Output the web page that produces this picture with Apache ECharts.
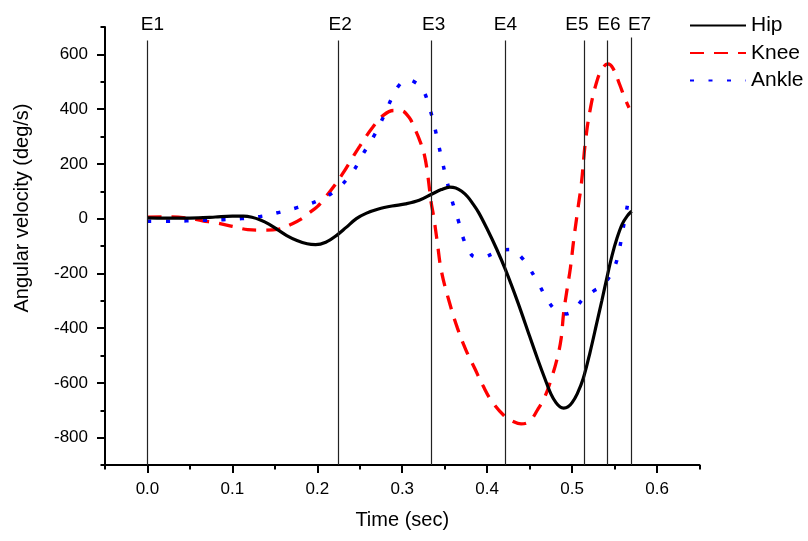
<!DOCTYPE html>
<html>
<head>
<meta charset="utf-8">
<script src="https://cdn.jsdelivr.net/npm/echarts@6/dist/echarts.min.js"></script>
<style>
html,body{margin:0;padding:0;background:#fff;}
#chart{width:808px;height:541px;}
</style>
</head>
<body>
<div id="chart"></div>
<script>
// ---- data ----
const hipT = [0, 0.02, 0.04, 0.06, 0.08, 0.10, 0.113, 0.123, 0.133, 0.143, 0.153, 0.164, 0.176, 0.188, 0.198, 0.21, 0.222, 0.234, 0.246, 0.258, 0.272, 0.288, 0.304, 0.32, 0.335, 0.346, 0.356, 0.363, 0.37, 0.377, 0.383, 0.39, 0.40, 0.411, 0.422, 0.436, 0.45, 0.46, 0.468, 0.475, 0.481, 0.486, 0.49, 0.495, 0.50, 0.506, 0.513, 0.521, 0.529, 0.535, 0.541, 0.547, 0.553, 0.559, 0.565, 0.570];
const hipV = [3, 2, 2, 3, 6, 9, 9, 5, -5, -20, -40, -62, -80, -92, -95, -86, -63, -32, 0, 20, 35, 46, 54, 67, 90, 106, 115, 112, 100, 80, 55, 22, -38, -110, -190, -305, -430, -518, -585, -640, -672, -688, -692, -688, -672, -640, -585, -490, -382, -300, -215, -135, -70, -20, 10, 27];

const kneeT = [0, 0.02, 0.045, 0.065, 0.08, 0.10, 0.118, 0.135, 0.155, 0.17, 0.182, 0.19, 0.20, 0.21, 0.22, 0.23, 0.24, 0.25, 0.265, 0.278, 0.29, 0.298, 0.308, 0.316, 0.321, 0.326, 0.33, 0.334, 0.337, 0.341, 0.346, 0.355, 0.365, 0.375, 0.385, 0.395, 0.405, 0.42, 0.43, 0.44, 0.45, 0.459, 0.468, 0.475, 0.482, 0.487, 0.49, 0.494, 0.498, 0.502, 0.507, 0.511, 0.516, 0.522, 0.529, 0.535, 0.542, 0.548, 0.556, 0.562, 0.567];
const kneeV = [5, 6, 3, -8, -15, -28, -40, -42, -38, -20, 0, 20, 44, 80, 120, 165, 215, 265, 333, 378, 395, 395, 370, 320, 282, 234, 160, 60, 7, -80, -190, -300, -400, -480, -545, -610, -665, -720, -740, -750, -740, -700, -650, -590, -516, -440, -345, -260, -180, -75, 40, 130, 290, 410, 500, 545, 565, 550, 490, 440, 405];

const ankleT = [0, 0.023, 0.046, 0.067, 0.089, 0.111, 0.133, 0.154, 0.176, 0.199, 0.221, 0.241, 0.254, 0.267, 0.278, 0.288, 0.297, 0.305, 0.314, 0.324, 0.332, 0.338, 0.343, 0.348, 0.353, 0.359, 0.366, 0.372, 0.378, 0.385, 0.395, 0.407, 0.418, 0.43, 0.44, 0.448, 0.461, 0.473, 0.483, 0.493, 0.503, 0.514, 0.525, 0.537, 0.55, 0.556, 0.56, 0.564, 0.568];
const ankleV = [-10, -10, -8, -6, -4, 0, 8, 22, 40, 63, 102, 168, 237, 304, 373, 442, 490, 508, 500, 472, 406, 336, 267, 198, 132, 62, -7, -73, -115, -139, -140, -128, -115, -113, -140, -172, -241, -307, -340, -348, -330, -289, -265, -241, -175, -106, -37, 29, 100];

const seriesNames = ['Hip', 'Knee', 'Ankle'];
const eventNames = ['E1', 'E2', 'E3', 'E4', 'E5', 'E6', 'E7'];
const eventTimes = [0, 0.2245, 0.334, 0.4215, 0.5145, 0.5415, 0.570];
const eventTops = [651, 651, 651, 651, 651, 651, 662];

const xMajorTicks = [0, 0.1, 0.2, 0.3, 0.4, 0.5, 0.6];
const yMajorTicks = [-800, -600, -400, -200, 0, 200, 400, 600];

// ---- style only ----
const eventLabelShift = [[5, 0], [2, 0], [2.5, 0], [0, 0], [-7.5, 0], [1.5, 0], [8, 3]];
const FONT = 'Liberation Sans, Arial, Helvetica, sans-serif';

function pairs(t, v) { return t.map((x, i) => [x, v[i]]); }

const grid = { left: 105, right: 108.5, top: 27, bottom: 76 };
const xRange = { min: -0.05, max: 0.65 };
const yRange = { min: -900, max: 700 };

const eventLines = eventTimes.map((t, i) => [
  { coord: [t, yRange.min] },
  { coord: [t, eventTops[i]], label: { formatter: eventNames[i], offset: eventLabelShift[i] } }
]);

const option = {
  animation: false,
  backgroundColor: '#fff',
  grid: grid,
  legend: {
    data: seriesNames,
    orient: 'vertical',
    left: 689,
    top: 15,
    padding: 0,
    itemWidth: 56,
    itemHeight: 14,
    itemGap: 6.5,
    itemStyle: { opacity: 0 },
    textStyle: { fontFamily: FONT, fontSize: 21, color: '#000', lineHeight: 20 }
  },
  xAxis: [
    {
      type: 'value', min: xRange.min, max: xRange.max, interval: 0.05,
      name: 'Time (sec)', nameLocation: 'middle', nameGap: 45,
      nameTextStyle: { fontFamily: FONT, fontSize: 20, color: '#000' },
      axisLine: { show: true, onZero: false, lineStyle: { color: '#000', width: 2 } },
      axisTick: { show: true, length: 8, lineStyle: { color: '#000', width: 2 }, customValues: xMajorTicks },
      axisLabel: { fontFamily: FONT, fontSize: 17, color: '#000', margin: 16, customValues: xMajorTicks,
        formatter: v => v.toFixed(1) },
      splitLine: { show: false }
    },
    {
      type: 'value', min: xRange.min, max: xRange.max, interval: 0.05, position: 'bottom',
      axisLine: { show: false, onZero: false },
      axisTick: { show: true, length: 4.5, lineStyle: { color: '#000', width: 2 } },
      axisLabel: { show: false },
      splitLine: { show: false }
    }
  ],
  yAxis: [
    {
      type: 'value', min: yRange.min, max: yRange.max, interval: 100,
      name: 'Angular velocity (deg/s)', nameLocation: 'middle', nameGap: 73, nameRotate: 90,
      nameTextStyle: { fontFamily: FONT, fontSize: 20, color: '#000', padding: [0, 0, 0, 76] },
      axisLine: { show: true, onZero: false, lineStyle: { color: '#000', width: 2 } },
      axisTick: { show: true, length: 8, lineStyle: { color: '#000', width: 2 }, customValues: yMajorTicks },
      axisLabel: { fontFamily: FONT, fontSize: 17, color: '#000', margin: 17, customValues: yMajorTicks },
      splitLine: { show: false }
    },
    {
      type: 'value', min: yRange.min, max: yRange.max, interval: 100, position: 'left',
      axisLine: { show: false, onZero: false },
      axisTick: { show: true, length: 4.5, lineStyle: { color: '#000', width: 2 } },
      axisLabel: { show: false },
      splitLine: { show: false }
    }
  ],
  series: [
    {
      name: 'events', type: 'line', data: [], silent: true, z: 1,
      markLine: {
        silent: true, symbol: 'none', animation: false,
        lineStyle: { color: '#222', width: 1.2, type: 'solid' },
        label: { show: true, position: 'end', distance: 6, fontFamily: FONT, fontSize: 19, color: '#000' },
        emphasis: { disabled: true },
        data: eventLines
      }
    },
    {
      name: 'Hip', type: 'line', data: pairs(hipT, hipV), showSymbol: false, symbol: 'none', smooth: 0.35, z: 4,
      lineStyle: { color: '#000', width: 3.2, type: 'solid' }, itemStyle: { color: '#000' }
    },
    {
      name: 'Knee', type: 'line', data: pairs(kneeT, kneeV), showSymbol: false, symbol: 'none', smooth: 0.4, z: 3,
      lineStyle: { color: '#ff0000', width: 3.3, type: [14, 10] }, itemStyle: { color: '#ff0000' }
    },
    {
      name: 'Ankle', type: 'line', data: pairs(ankleT, ankleV), showSymbol: false, symbol: 'none', smooth: 0.4, z: 3,
      lineStyle: { color: '#0000ff', width: 3.5, type: [4, 14.5] }, itemStyle: { color: '#0000ff' }
    }
  ]
};

const chart = echarts.init(document.getElementById('chart'), null, { renderer: 'canvas' });
chart.setOption(option);
</script>
</body>
</html>
